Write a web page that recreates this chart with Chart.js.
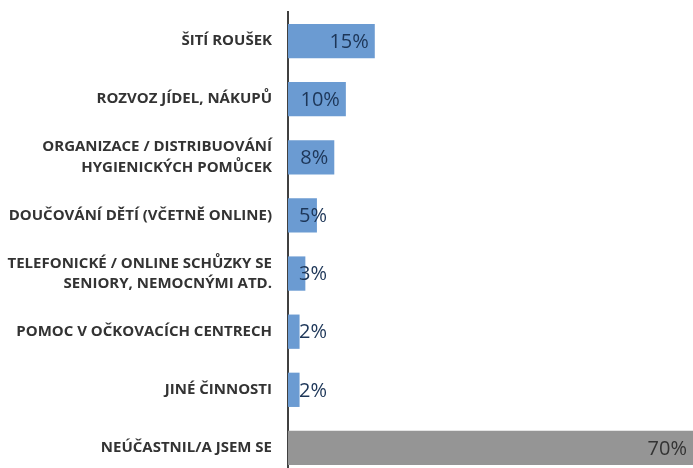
<!DOCTYPE html>
<html>
<head>
<meta charset="utf-8">
<script src="https://cdn.jsdelivr.net/npm/chart.js@4/dist/chart.umd.min.js"></script>
<style>
  html, body { margin: 0; padding: 0; background: #fff; overflow: hidden; }
  #wrap { position: relative; width: 693px; height: 477px; }
</style>
</head>
<body>
<div id="wrap"><canvas id="chart"></canvas></div>
<script>
// activities (labels split in lines like the original)
var categories = [
  ['ŠITÍ ROUŠEK'],
  ['ROZVOZ JÍDEL, NÁKUPŮ'],
  ['ORGANIZACE / DISTRIBUOVÁNÍ', 'HYGIENICKÝCH POMŮCEK'],
  ['DOUČOVÁNÍ DĚTÍ (VČETNĚ ONLINE)'],
  ['TELEFONICKÉ / ONLINE SCHŮZKY SE', 'SENIORY, NEMOCNÝMI ATD.'],
  ['POMOC V OČKOVACÍCH CENTRECH'],
  ['JINÉ ČINNOSTI'],
  ['NEÚČASTNIL/A JSEM SE']
];
var values = [15, 10, 8, 5, 3, 2, 2, 70];
var barColors = ['#6b9bd2', '#6b9bd2', '#6b9bd2', '#6b9bd2', '#6b9bd2', '#6b9bd2', '#6b9bd2', '#959595'];
var labelColors = ['#1d3658', '#1d3658', '#1d3658', '#1d3658', '#1d3658', '#1d3658', '#1d3658', '#333333'];

// percent labels: right aligned at bar end, but never closer than 11px to the axis
var valueLabels = {
  id: 'valueLabels',
  afterDatasetsDraw: function(chart) {
    var ctx = chart.ctx;
    var meta = chart.getDatasetMeta(0);
    var left = chart.chartArea.left;
    ctx.save();
    ctx.font = '20px "Open Sans", sans-serif';
    ctx.textAlign = 'right';
    ctx.textBaseline = 'middle';
    meta.data.forEach(function(bar, i) {
      var txt = values[i] + '%';
      var w = ctx.measureText(txt).width;
      var x = Math.max(bar.x - 6, left + 11 + w);
      ctx.fillStyle = labelColors[i];
      ctx.fillText(txt, x, bar.y + 1);
    });
    ctx.restore();
  }
};

new Chart(document.getElementById('chart'), {
  type: 'bar',
  data: {
    labels: categories,
    datasets: [{
      data: values,
      backgroundColor: barColors,
      borderWidth: 0,
      categoryPercentage: 1,
      barPercentage: 0.59
    }]
  },
  options: {
    indexAxis: 'y',
    responsive: true,
    maintainAspectRatio: false,
    animation: false,
    layout: { padding: { top: 12, left: 0, right: 0, bottom: 0 } },
    plugins: {
      legend: { display: false },
      tooltip: { enabled: false }
    },
    scales: {
      x: {
        display: false,
        min: 0,
        max: 70
      },
      y: {
        afterFit: function(scale) {
          scale.width = 288;
          // no extra room for the first/last label
          scale.paddingTop = 0;
          scale.paddingBottom = 0;
        },
        grid: { display: false, drawTicks: false },
        border: { display: true, color: '#404040', width: 2 },
        ticks: {
          padding: 16,
          color: '#333333',
          font: { family: '"Open Sans", sans-serif', size: 15, weight: 'bold', lineHeight: 1.35 }
        }
      }
    }
  },
  plugins: [valueLabels]
});
</script>
</body>
</html>
